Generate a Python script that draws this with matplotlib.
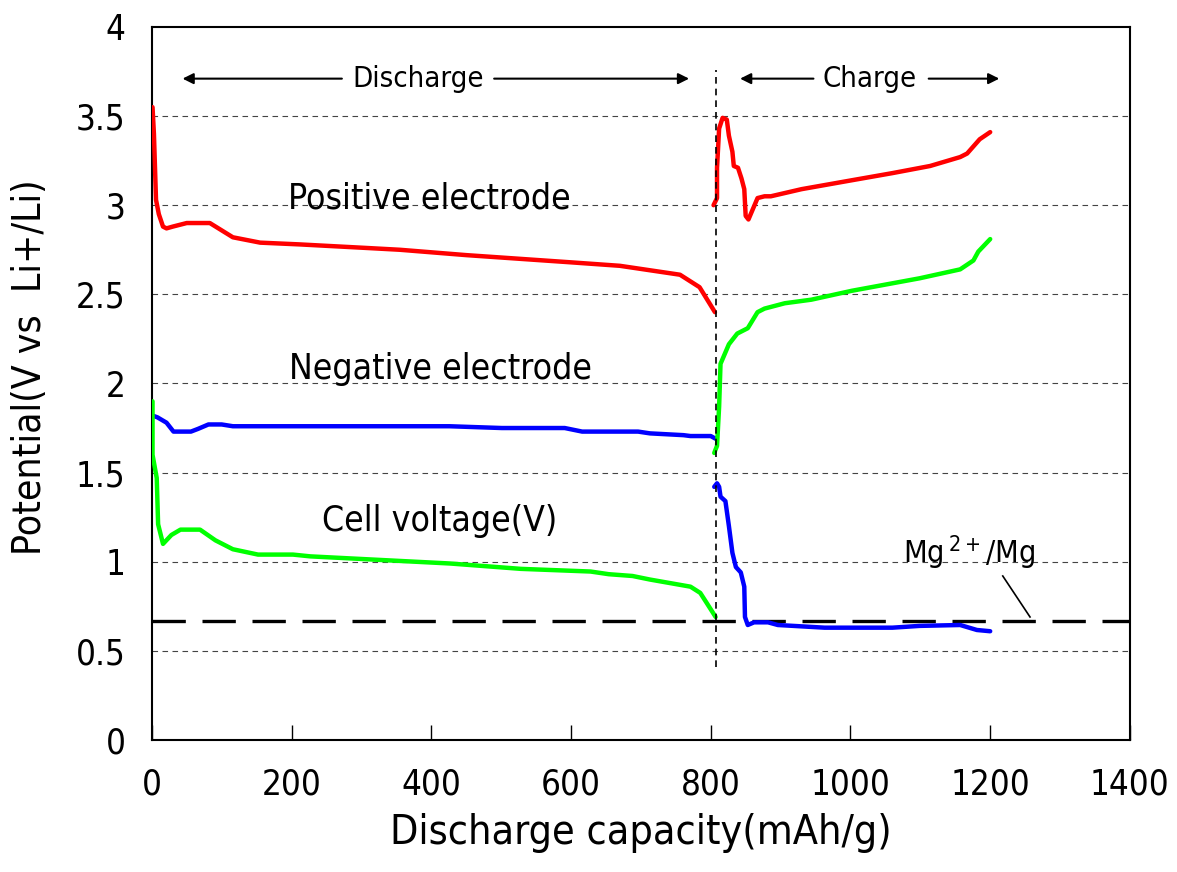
import matplotlib
matplotlib.use('Agg')
import matplotlib.pyplot as plt
from matplotlib import font_manager

# condensed DejaVu is the closest we have to the narrow original font
fonts = font_manager.fontManager.ttflist
narrow = [f for f in fonts if f.name == 'DejaVu Sans' and 'condensed' in str(f.stretch)]
plt.rcParams['font.family'] = ['DejaVu Sans']
if narrow:
  plt.rcParams['font.stretch'] = 'condensed'

# positive electrode, discharge
pos_dis_x = [1, 3, 6, 10, 16, 21, 30, 50, 83, 116, 155, 212, 308, 355, 450, 598, 670, 756, 784, 806]
pos_dis_y = [3.55, 3.40, 3.03, 2.95, 2.88, 2.87, 2.88, 2.90, 2.90, 2.82, 2.79, 2.78, 2.76, 2.75, 2.72, 2.68, 2.66, 2.61, 2.54, 2.40]
# positive electrode, charge
pos_chg_x = [804, 809, 809, 812, 817, 823, 826, 831, 833, 839, 844, 848, 850, 854, 867, 877, 886, 930, 1002, 1060, 1114, 1157, 1167, 1185, 1200]
pos_chg_y = [3.00, 3.04, 3.21, 3.43, 3.49, 3.48, 3.39, 3.30, 3.22, 3.21, 3.15, 3.09, 2.94, 2.92, 3.04, 3.05, 3.05, 3.09, 3.14, 3.18, 3.22, 3.27, 3.29, 3.37, 3.41]

# negative electrode, discharge
neg_dis_x = [1, 8, 21, 31, 56, 66, 81, 100, 116, 426, 501, 591, 616, 696, 713, 761, 771, 800, 807]
neg_dis_y = [1.82, 1.81, 1.78, 1.73, 1.73, 1.745, 1.77, 1.77, 1.76, 1.76, 1.75, 1.75, 1.73, 1.73, 1.72, 1.71, 1.705, 1.705, 1.69]
# negative electrode, charge
neg_chg_x = [805, 809, 812, 814, 821, 826, 831, 836, 843, 848, 849, 853, 862, 882, 896, 963, 1060, 1099, 1157, 1181, 1200]
neg_chg_y = [1.42, 1.44, 1.42, 1.365, 1.34, 1.20, 1.05, 0.97, 0.94, 0.86, 0.69, 0.645, 0.66, 0.66, 0.645, 0.63, 0.63, 0.64, 0.645, 0.617, 0.61]

# cell voltage, discharge
cell_dis_x = [1, 1, 7, 9, 16, 28, 41, 69, 91, 116, 152, 202, 227, 277, 327, 427, 528, 628, 654, 688, 713, 771, 785, 794, 807]
cell_dis_y = [1.90, 1.60, 1.47, 1.21, 1.10, 1.15, 1.18, 1.18, 1.12, 1.07, 1.04, 1.04, 1.03, 1.02, 1.01, 0.99, 0.96, 0.945, 0.93, 0.92, 0.90, 0.86, 0.825, 0.77, 0.69]
# cell voltage, charge
cell_chg_x = [805, 809, 812, 814, 826, 838, 853, 867, 877, 906, 944, 1002, 1099, 1157, 1176, 1183, 1200]
cell_chg_y = [1.61, 1.65, 1.87, 2.11, 2.22, 2.28, 2.31, 2.40, 2.42, 2.45, 2.47, 2.52, 2.59, 2.64, 2.69, 2.74, 2.81]

mg_level = 0.67
switch_x = 808

xticks = [0, 200, 400, 600, 800, 1000, 1200, 1400]
yticks = [0, 0.5, 1, 1.5, 2, 2.5, 3, 3.5, 4]
ytick_labels = ['0', '0.5', '1', '1.5', '2', '2.5', '3', '3.5', '4']

fig = plt.figure(figsize=(11.77, 8.72), dpi=100)
ax = fig.add_axes([0.129, 0.1514, 0.831, 0.8177])

RED = '#ff0000'
BLUE = '#0000ff'
GREEN = '#00ff00'
lw = 3.2

ax.plot(pos_dis_x, pos_dis_y, color=RED, lw=lw, solid_capstyle='round', zorder=3)
ax.plot(pos_chg_x, pos_chg_y, color=RED, lw=lw, solid_capstyle='round', zorder=3)
ax.plot(neg_dis_x, neg_dis_y, color=BLUE, lw=lw, solid_capstyle='round', zorder=3)
ax.plot(neg_chg_x, neg_chg_y, color=BLUE, lw=lw, solid_capstyle='round', zorder=3)
ax.plot(cell_dis_x, cell_dis_y, color=GREEN, lw=lw, solid_capstyle='round', zorder=3)
ax.plot(cell_chg_x, cell_chg_y, color=GREEN, lw=lw, solid_capstyle='round', zorder=3)

# Mg2+/Mg reference line
ax.axhline(mg_level, color='black', lw=2.4, dashes=(10, 5), zorder=2)
# discharge / charge switch
ax.plot([switch_x, switch_x], [0.41, 3.76], color='black', lw=1.2, dashes=(4, 3), zorder=4)

ax.set_xlim(0, 1400)
ax.set_ylim(0, 4)
ax.set_xticks(xticks)
ax.set_yticks(yticks)
ax.set_yticklabels(ytick_labels)
ax.tick_params(axis='x', direction='in', length=11, width=1, labelsize=25, pad=20)
ax.tick_params(axis='y', length=0, labelsize=25, pad=19)
for s in ax.spines.values():
  s.set_linewidth(1.5)

for g in [0.5, 1, 1.5, 2, 2.5, 3, 3.5]:
  ax.axhline(g, color='#444444', lw=0.8, dashes=(5, 4), zorder=1)

ax.set_xlabel('Discharge capacity(mAh/g)', fontsize=29.5, labelpad=8)
fig.text(30 / 1177, 1 - 367 / 872, 'Potential(V vs  Li+/Li)', fontsize=28,
         rotation=90, ha='center', va='center')

# curve labels
ax.text(195, 3.035, 'Positive electrode', fontsize=25.5, va='center', ha='left')
ax.text(197, 2.08, 'Negative electrode', fontsize=25.5, va='center', ha='left')
ax.text(243, 1.23, 'Cell voltage(V)', fontsize=25.5, va='center', ha='left')
ax.text(1170, 1.05, r'Mg$\,^{2+}$/Mg', fontsize=22, va='center', ha='center')
ax.plot([1218, 1257], [0.92, 0.69], color='black', lw=1.2)

# discharge / charge arrows
arr = dict(arrowstyle='-|>', color='black', lw=1.5, mutation_scale=16)
ax.text(381, 3.71, 'Discharge', fontsize=21, va='center', ha='center')
ax.annotate('', xy=(40, 3.71), xytext=(276, 3.71), arrowprops=arr)
ax.annotate('', xy=(773, 3.71), xytext=(486, 3.71), arrowprops=arr)
ax.text(1028, 3.71, 'Charge', fontsize=21, va='center', ha='center')
ax.annotate('', xy=(838, 3.71), xytext=(951, 3.71), arrowprops=arr)
ax.annotate('', xy=(1217, 3.71), xytext=(1108, 3.71), arrowprops=arr)

fig.savefig('out.png', dpi=100)
